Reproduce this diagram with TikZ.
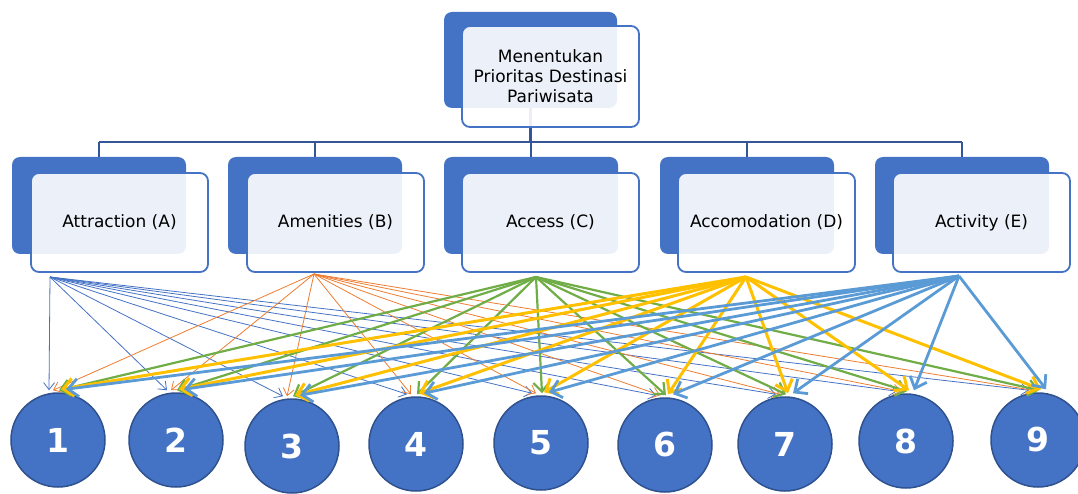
\documentclass[tikz,border=0pt]{standalone}
\usepackage{fontspec}
\setmainfont{DejaVu Sans}
\usetikzlibrary{arrows.meta}
\definecolor{accb}{RGB}{68,114,196}
\definecolor{accdark}{RGB}{47,82,143}
\definecolor{treeline}{RGB}{52,86,153}
\definecolor{cA}{RGB}{68,114,196}
\definecolor{cB}{RGB}{237,125,49}
\definecolor{cC}{RGB}{112,173,71}
\definecolor{cD}{RGB}{255,192,0}
\definecolor{cE}{RGB}{91,155,213}
\tikzset{
  backbox/.style={rectangle, rounded corners=8pt, fill=accb, draw=none, inner sep=0pt},
  frontbox/.style={rectangle, rounded corners=8pt, fill=white, fill opacity=0.9, text opacity=1,
     draw=accb, line width=1.8pt, inner sep=0pt, minimum width=177pt, minimum height=99pt,
     align=center, font=\fontsize{17}{20}\selectfont, text=black},
  tree/.style={draw=treeline, line width=2.2pt},
  circ/.style={circle, fill=accb, draw=accdark, line width=1.5pt, minimum size=94pt, inner sep=0pt,
     text=white, font=\bfseries\fontsize{33}{33}\selectfont},
  arrA/.style={draw=cA, line width=0.8pt, -{Straight Barb[length=7pt,width=11pt]}},
  arrB/.style={draw=cB, line width=0.8pt, -{Straight Barb[length=7pt,width=11pt]}},
  arrC/.style={draw=cC, line width=2.2pt, -{Straight Barb[length=9pt,width=16pt]}},
  arrD/.style={draw=cD, line width=3pt, -{Straight Barb[length=10pt,width=18pt]}},
  arrE/.style={draw=cE, line width=2.8pt, -{Straight Barb[length=10pt,width=18pt]}},
}
\begin{document}
\begin{tikzpicture}[x=1pt,y=-1pt]
\useasboundingbox (0,0) rectangle (1078,494);
\clip (0,0) rectangle (1078,494);
% back boxes
\node[backbox, minimum width=173pt, minimum height=96pt] (topback) at (530.5,60) {};
\node[backbox, minimum width=174pt, minimum height=97pt] (bA) at (99,205.5) {};
\node[backbox, minimum width=174pt, minimum height=97pt] (bB) at (315,205.5) {};
\node[backbox, minimum width=174pt, minimum height=97pt] (bC) at (531,205.5) {};
\node[backbox, minimum width=174pt, minimum height=97pt] (bD) at (747,205.5) {};
\node[backbox, minimum width=174pt, minimum height=97pt] (bE) at (962,205.5) {};
% tree connectors
\coordinate (bus) at (0,142);
\draw[tree] (topback.south) -- (topback.south |- bus);
\draw[tree] (bA.north |- bus) -- (bE.north |- bus);
\foreach \b in {bA,bB,bC,bD,bE} \draw[tree] (\b.north |- bus) -- (\b.north);
% front boxes
\node[frontbox, minimum height=101pt] (top) at (550.5,76.5) {Menentukan\\Prioritas Destinasi\\Pariwisata};
\node[frontbox] (fA) at (119.5,222.5) {Attraction (A)};
\node[frontbox] (fB) at (335.5,222.5) {Amenities (B)};
\node[frontbox] (fC) at (550.5,222.5) {Access (C)};
\node[frontbox] (fD) at (766.5,222.5) {Accomodation (D)};
\node[frontbox] (fE) at (981.5,222.5) {Activity (E)};
% circles
\node[circ] (n1) at (58,440) {1};
\node[circ] (n2) at (176,440) {2};
\node[circ] (n3) at (292,446) {3};
\node[circ] (n4) at (416,444) {4};
\node[circ] (n5) at (541,443) {5};
\node[circ] (n6) at (665,445) {6};
\node[circ] (n7) at (785,444) {7};
\node[circ] (n8) at (906,441) {8};
\node[circ] (n9) at (1038,440) {9};
% fan origins
\coordinate (oA) at (50,277);
\coordinate (oB) at (314,274);
\coordinate (oC) at (536,277);
\coordinate (oD) at (746,277);
\coordinate (oE) at (959,276);
% arrows
\foreach \i in {1,...,9} \draw[arrA] (oA) -- ([xshift=-9pt,yshift=2pt]n\i.north);
\foreach \i in {1,...,9} \draw[arrB] (oB) -- ([xshift=-5pt,yshift=2pt]n\i.north);
\foreach \i in {1,...,9} \draw[arrC] (oC) -- ([xshift=1pt,yshift=2pt]n\i.north);
\foreach \i in {1,...,9} \draw[arrD] (oD) -- ([xshift=3pt,yshift=3pt]n\i.north);
\foreach \i in {1,...,9} \draw[arrE] (oE) -- ([xshift=8pt,yshift=3pt]n\i.north);
\end{tikzpicture}
\end{document}
